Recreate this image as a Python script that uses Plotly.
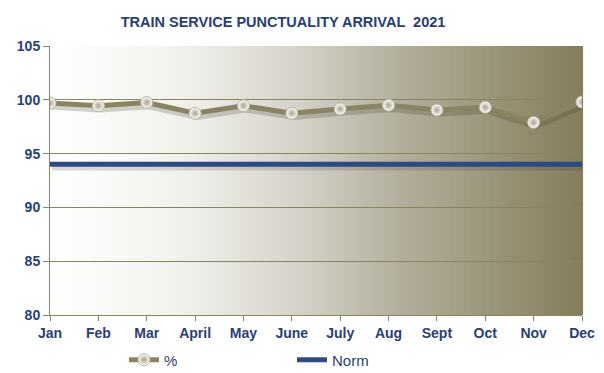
import plotly.graph_objects as go

months = ["Jan", "Feb", "Mar", "April", "May", "June", "July", "Aug", "Sept", "Oct", "Nov", "Dec"]
pct = [99.7, 99.45, 99.75, 98.75, 99.45, 98.75, 99.15, 99.5, 99.05, 99.3, 97.9, 99.8]
norm = [94] * 12
y_ticks = [80, 85, 90, 95, 100, 105]

NAVY = "#2B4A86"
TXT = "#26407A"
OLIVE = "#8A8461"
xs = list(range(len(months)))

fig = go.Figure()

# gradient background as thin rects
def lerp(c1, c2, t):
    return tuple(int(round(a + (b - a) * t)) for a, b in zip(c1, c2))

stops = [(0.0, (255, 255, 255)), (0.25, (241, 241, 236)), (0.47, (212, 210, 200)),
         (0.65, (180, 176, 158)), (0.85, (152, 146, 118)), (1.0, (133, 125, 90))]

def grad(t):
    for (t0, c0), (t1, c1) in zip(stops[:-1], stops[1:]):
        if t <= t1:
            return lerp(c0, c1, (t - t0) / (t1 - t0))
    return stops[-1][1]

N = 140
for i in range(N):
    t = (i + 0.5) / N
    r, g, b = grad(t)
    fig.add_shape(type="rect", xref="x domain", yref="y domain",
                  x0=i / N, x1=(i + 1) / N + 0.002, y0=0, y1=1,
                  fillcolor=f"rgb({r},{g},{b})", line=dict(width=0), layer="below")

# shadows
fig.add_trace(go.Scatter(x=[x + 0.04 for x in xs], y=[v - 0.3 for v in norm], mode="lines",
                         line=dict(color="rgba(60,55,40,0.18)", width=6), showlegend=False, hoverinfo="skip"))
fig.add_trace(go.Scatter(x=[x + 0.04 for x in xs], y=[v - 0.35 for v in pct], mode="lines",
                         line=dict(color="rgba(60,55,40,0.22)", width=6), showlegend=False, hoverinfo="skip"))

fig.add_trace(go.Scatter(x=xs, y=pct, mode="lines+markers", name="%",
                         line=dict(color=OLIVE, width=5),
                         marker=dict(size=12, color="white", symbol="circle",
                                     gradient=dict(type="radial", color="#A8A38C"),
                                     line=dict(color="#B9B5A2", width=1))))
fig.add_trace(go.Scatter(x=xs, y=norm, mode="lines", name="Norm",
                         line=dict(color=NAVY, width=5)))

fig.update_layout(
    width=604, height=373,
    margin=dict(l=50, r=22, t=46, b=58, autoexpand=False),
    paper_bgcolor="white", plot_bgcolor="white",
    font=dict(family="Liberation Sans, Arial, sans-serif", color=TXT),
    title=dict(text="<b>TRAIN SERVICE PUNCTUALITY ARRIVAL  2021</b>",
               xref="container", x=283 / 604, xanchor="center",
               yref="container", y=1 - 22 / 373, yanchor="middle",
               font=dict(size=14.5, color=TXT)),
    xaxis=dict(range=[0, 11], tickmode="array", tickvals=xs, ticktext=months,
               showgrid=False, zeroline=False, ticks="outside", ticklen=5,
               tickcolor=OLIVE, showline=True, linecolor=OLIVE, linewidth=1,
               tickfont=dict(size=14, color=TXT, family="Liberation Sans, Arial", weight="bold")),
    yaxis=dict(range=[80, 105], tickmode="array", tickvals=y_ticks,
               showgrid=True, gridcolor=OLIVE, gridwidth=1, zeroline=False,
               ticks="outside", ticklen=6, tickcolor=OLIVE,
               showline=True, linecolor=OLIVE, linewidth=1,
               tickfont=dict(size=14, color=TXT, family="Liberation Sans, Arial", weight="bold")),
    legend=dict(orientation="h", xref="container", x=124 / 604, xanchor="left",
                yref="container", y=13 / 373, yanchor="middle",
                entrywidth=123, entrywidthmode="pixels",
                font=dict(size=15, color="#2B3F70"), bgcolor="rgba(0,0,0,0)"),
)

fig.write_html("out.html", config={"displayModeBar": False},
               post_script="document.body.style.margin='0';")
